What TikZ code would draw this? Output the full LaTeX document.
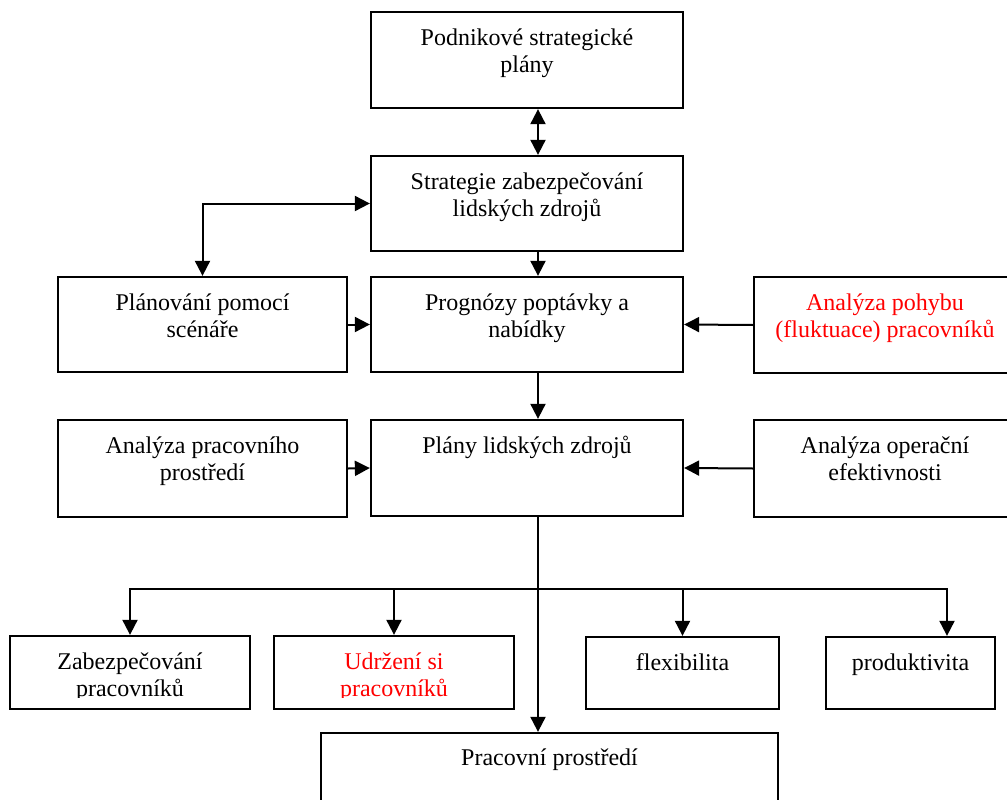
\documentclass[tikz,border=0pt]{standalone}
\usepackage{fontspec}
\setmainfont{Liberation Serif}
\usetikzlibrary{arrows.meta}
\begin{document}
\begin{tikzpicture}[x=1pt,y=-1pt,
  box/.style={draw=black, line width=2.3pt, rectangle, inner sep=0pt},
  txt/.style={anchor=north, inner sep=0pt, align=center, font=\fontsize{24}{27.6}\selectfont},
  conn/.style={line width=2pt, -{Triangle[length=15pt,width=15pt]}},
  dconn/.style={line width=2pt, {Triangle[length=15pt,width=15pt]}-{Triangle[length=15pt,width=15pt]}}
]
\useasboundingbox (0,0) rectangle (1007,800);
% boxes
\node[box, minimum width=312pt, minimum height=96pt] (top) at (527,60) {};
\node[box, minimum width=312pt, minimum height=95pt] (strat) at (527,203.5) {};
\node[box, minimum width=312pt, minimum height=95pt] (prog) at (527,324.5) {};
\node[box, minimum width=312pt, minimum height=96pt] (plany) at (527,468) {};
\node[box, minimum width=289pt, minimum height=95pt] (scen) at (202.5,324.5) {};
\node[box, minimum width=289pt, minimum height=97pt] (apr) at (202.5,468.5) {};
\node[box, minimum width=262pt, minimum height=96pt] (apoh) at (885,325) {};
\node[box, minimum width=262pt, minimum height=97pt] (aop) at (885,468.5) {};
\node[box, minimum width=240pt, minimum height=73pt] (zab) at (130,672.5) {};
\node[box, minimum width=240pt, minimum height=73pt] (udr) at (394,672.5) {};
\node[box, minimum width=193pt, minimum height=72pt] (flex) at (682.5,673) {};
\node[box, minimum width=169pt, minimum height=72pt] (prod) at (910.5,673) {};
\node[box, minimum width=457pt, minimum height=80pt] (prac) at (549.5,773) {};
% texts
\node[txt] (ttop) at ([yshift=-15pt]top.north) {\strut Podnikové strategické\\plány};
\node[txt] (tstrat) at ([yshift=-15pt]strat.north) {\strut Strategie zabezpečování\\lidských zdrojů};
\node[txt] (tprog) at ([yshift=-15pt]prog.north) {\strut Prognózy poptávky a\\nabídky};
\node[txt] (tplany) at ([yshift=-15pt]plany.north) {\strut Plány lidských zdrojů};
\node[txt] (tscen) at ([yshift=-15pt]scen.north) {\strut Plánování pomocí\\scénáře};
\node[txt] (tapr) at ([yshift=-15pt]apr.north) {\strut Analýza pracovního\\prostředí};
\node[txt, text=red] (tapoh) at ([yshift=-15pt]apoh.north) {\strut Analýza pohybu\\(fluktuace) pracovníků};
\node[txt] (taop) at ([yshift=-15pt]aop.north) {\strut Analýza operační\\efektivnosti};
\begin{scope}
\clip (0,636) rectangle (1007,697);
\node[txt] (tzab) at ([yshift=-15pt]zab.north) {\strut Zabezpečování\\pracovníků};
\node[txt, text=red] (tudr) at ([yshift=-15pt]udr.north) {\strut Udržení si\\pracovníků};
\end{scope}
\node[txt] (tflex) at ([yshift=-15pt]flex.north) {\strut flexibilita};
\node[txt] (tprod) at ([yshift=-15pt]prod.north) {\strut produktivita};
\node[txt] (tprac) at ([yshift=-14pt]prac.north) {\strut Pracovní prostředí};
% connectors
\coordinate (xa) at (538,0);
\coordinate (j) at (538,589);
\draw[dconn] (top.south -| xa) -- (strat.north -| xa);
\draw[conn] (strat.south -| xa) -- (prog.north -| xa);
\draw[conn] (prog.south -| xa) -- (plany.north -| xa);
\draw[dconn] (scen.north) |- (strat.west);
\draw[conn] (scen.east) -- (prog.west);
\draw[conn] (apr.east) -- (plany.west);
\draw[conn] (apoh.west) -- (prog.east);
\draw[conn] (aop.west) -- (plany.east);
\draw[conn] (plany.south -| xa) -- (prac.north -| xa);
\draw[conn] (j) -| (zab.north);
\draw[conn] (j) -| (udr.north);
\draw[conn] (j) -| (flex.north);
\draw[conn] (j) -| ([xshift=36.5pt]prod.north);
\end{tikzpicture}
\end{document}
